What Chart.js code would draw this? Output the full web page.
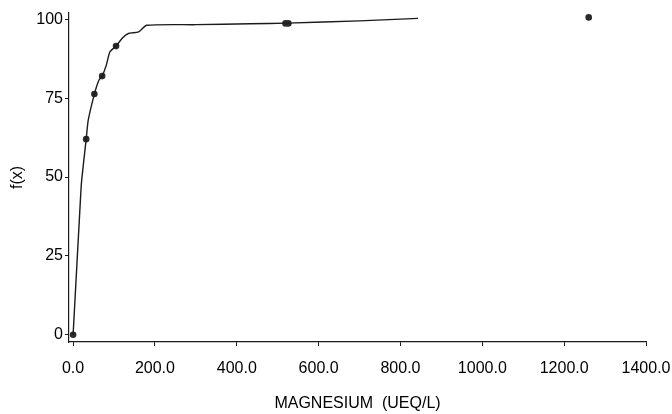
<!DOCTYPE html>
<html>
<head>
<meta charset="utf-8">
<script src="https://cdn.jsdelivr.net/npm/chart.js@4/dist/chart.umd.min.js"></script>
<style>
  html, body { margin: 0; padding: 0; background: #fff; }
  #wrap { width: 672px; height: 414px; }
</style>
</head>
<body>
<div id="wrap"><canvas id="myChart" width="672" height="414"></canvas></div>
<script>
// fitted curve f(x) for magnesium (ueq/l)
const curveX = [0, 18, 21, 32, 37, 52, 63, 71, 81, 90, 105, 120, 135, 160, 180, 300, 433, 523, 700, 843];
const curveY = [0, 43, 49, 62, 68, 76.3, 80.7, 82, 85.4, 89.7, 91.5, 94, 95.5, 96, 98.1, 98.3, 98.6, 98.8, 99.5, 100.3];
// observed points
const pointX = [0, 32, 52, 71, 105, 519, 526, 1260];
const pointY = [0, 62, 76.3, 82, 91.5, 98.7, 98.7, 100.6];
// axis ticks
const xTicks = [0, 200, 400, 600, 800, 1000, 1200, 1400];
const yTicks = [0, 25, 50, 75, 100];

const ink = "#1b1b1b";
const font = { family: "'Liberation Sans', Arial, sans-serif", size: 16 };

const data = {
  datasets: [
    {
      label: "courbe",
      data: curveX.map((x, i) => ({ x: x, y: curveY[i] })),
      showLine: true,
      borderColor: ink,
      borderWidth: 1.4,
      pointRadius: 0,
      tension: 0.2,
    },
    {
      label: "points",
      data: pointX.map((x, i) => ({ x: x, y: pointY[i] })),
      showLine: false,
      pointRadius: 3.3,
      pointBackgroundColor: "#2a2a2a",
      pointBorderColor: "#2a2a2a",
      borderWidth: 0,
    },
  ],
};

const config = {
  type: "scatter",
  data: data,
  options: {
    responsive: false,
    animation: false,
    layout: { padding: { left: 0, right: 26, top: 13, bottom: 0 } },
    plugins: { legend: false, tooltip: { enabled: false } },
    scales: {
      x: {
        type: "linear",
        min: -10,
        max: 1400,
        afterBuildTicks: (s) => { s.ticks = xTicks.map((v) => ({ value: v })); },
        // fixed height, and no extra room for the end labels
        afterFit: (s) => { s.height = 72; s.paddingLeft = 0; s.paddingRight = 0; },
        grid: { drawOnChartArea: false, drawTicks: true, tickLength: 4, color: ink, lineWidth: 1 },
        border: { display: true, color: ink, width: 1.2 },
        ticks: {
          color: "#000",
          font: font,
          padding: 13,
          maxRotation: 0,
          autoSkip: false,
          callback: (v) => Number(v).toFixed(1),
        },
        title: { display: true, text: "MAGNESIUM  (UEQ/L)", color: "#000", font: font, padding: { top: 0, bottom: 1 } },
      },
      y: {
        type: "linear",
        min: -2.3,
        max: 102,
        afterBuildTicks: (s) => { s.ticks = yTicks.map((v) => ({ value: v })); },
        afterFit: (s) => { s.width = 69; },
        grid: { drawOnChartArea: false, drawTicks: true, tickLength: 4, color: ink, lineWidth: 1 },
        border: { display: true, color: ink, width: 1.2 },
        ticks: { color: "#000", font: font, padding: 2 },
        title: { display: true, text: "f(x)", color: "#000", font: font, padding: { top: 8, bottom: 0 } },
      },
    },
  },
};

let context = document.getElementById("myChart").getContext("2d");
let chart = new Chart(context, config);
</script>
</body>
</html>
